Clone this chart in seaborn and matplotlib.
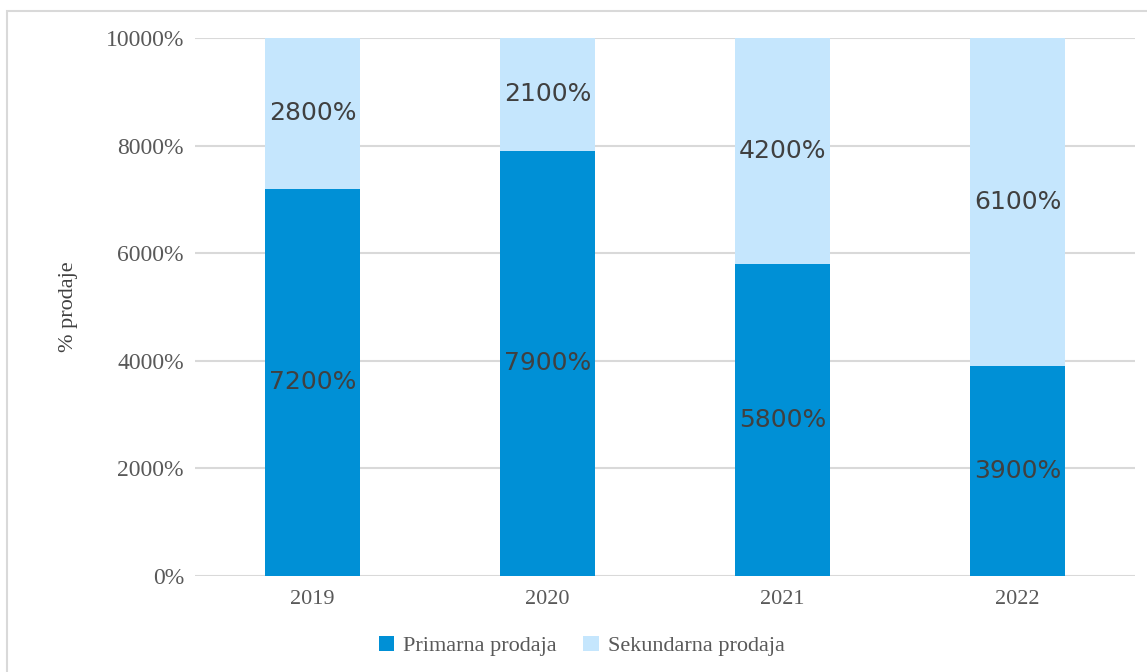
import matplotlib
matplotlib.use("Agg")
import matplotlib.pyplot as plt
import seaborn as sns
import pandas as pd
from matplotlib.patches import Rectangle
from matplotlib.ticker import FuncFormatter

years = ["2019", "2020", "2021", "2022"]
primarna = [72, 79, 58, 39]
sekundarna = [28, 21, 42, 61]
series_names = ["Primarna prodaja", "Sekundarna prodaja"]
colors = ["#0090d6", "#c5e6fd"]

df = pd.DataFrame({"year": years, "primarna": primarna, "sekundarna": sekundarna})
df["total"] = df["primarna"] + df["sekundarna"]

sns.set_style("white")
plt.rcParams["font.family"] = ["Liberation Serif", "DejaVu Serif"]

fig = plt.figure(figsize=(11.47, 6.72), dpi=100)
ax = fig.add_axes([0.170, 0.1429, 0.8195, 0.8006])

# total first (light), primary on top
sns.barplot(data=df, x="year", y="total", color=colors[1], width=0.404,
            saturation=1, ax=ax, zorder=2, label=series_names[1],
            edgecolor="none", linewidth=0)
sns.barplot(data=df, x="year", y="primarna", color=colors[0], width=0.404,
            saturation=1, ax=ax, zorder=3, label=series_names[0],
            edgecolor="none", linewidth=0)
if ax.get_legend() is not None:
    ax.get_legend().remove()

fmt = lambda v: f"{v * 100:.0f}%"
for i, (p, s) in enumerate(zip(df["primarna"], df["sekundarna"])):
    ax.text(i, p / 2, fmt(p), ha="center", va="center", fontsize=18,
            color="#404040", family="DejaVu Sans", zorder=5)
    ax.text(i, p + s / 2, fmt(s), ha="center", va="center", fontsize=18,
            color="#404040", family="DejaVu Sans", zorder=5)

ax.set_ylim(0, 100)
ax.set_xlim(-0.5, 3.5)
ax.set_yticks(range(0, 101, 20))
ax.yaxis.set_major_formatter(FuncFormatter(lambda v, _: fmt(v)))
ax.grid(axis="y", color="#d9d9d9", linewidth=1.5, zorder=0)
ax.set_axisbelow(True)
for sp in ax.spines.values():
    sp.set_visible(False)
ax.tick_params(axis="both", length=0, labelcolor="#595959")
ax.tick_params(axis="y", pad=8, labelsize=17)
ax.tick_params(axis="x", pad=10, labelsize=16)
ax.set_xlabel("")
ax.set_ylabel("% prodaje", fontsize=16, color="#404040", labelpad=20)

handles, labels = ax.get_legend_handles_labels()
order = [labels.index(n) for n in series_names]
fig.legend([handles[k] for k in order], [labels[k] for k in order],
           loc="center", bbox_to_anchor=(0.507, 1 - 646 / 672), ncol=2, frameon=False,
           fontsize=16, handlelength=0.7, handleheight=0.7, handletextpad=0.4,
           columnspacing=1.2, labelcolor="#595959")

fig.patches.append(Rectangle((7 / 1147, -0.05), 1.1, (672 - 11) / 672 + 0.05,
                             transform=fig.transFigure, fill=False,
                             edgecolor="#d9d9d9", linewidth=1.5))

fig.savefig("out.png", dpi=100)
